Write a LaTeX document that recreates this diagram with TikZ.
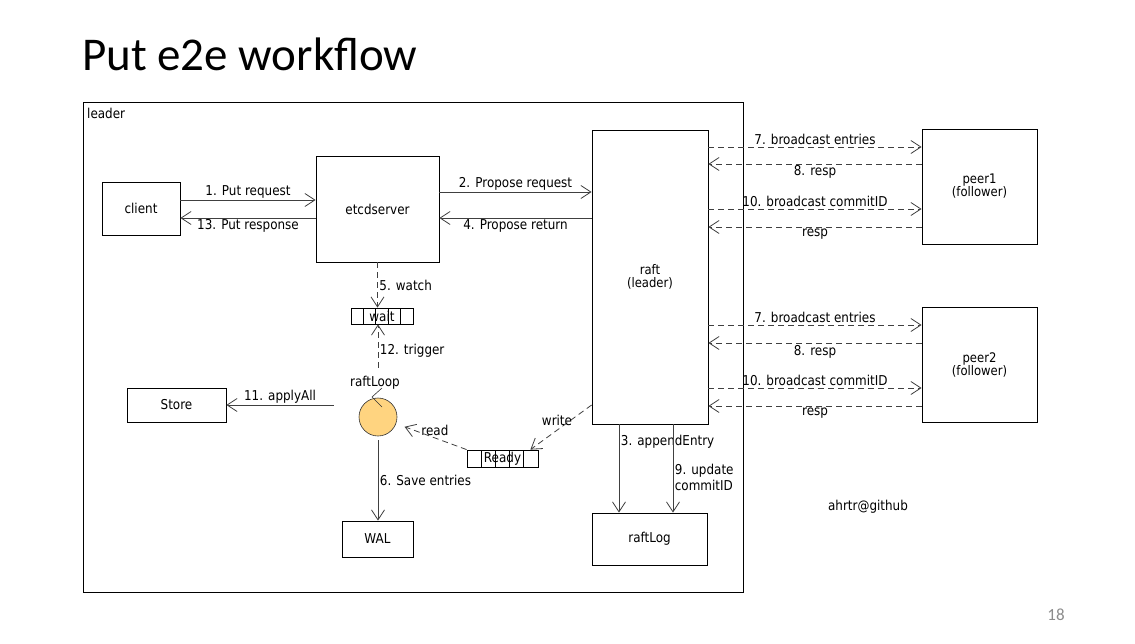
\documentclass[tikz,border=0pt]{standalone}
\usepackage{fontspec}
\setmainfont{DejaVu Sans}[FakeStretch=0.88]
\newfontfamily\titlefont{Carlito}
\usetikzlibrary{arrows.meta,calc}
\definecolor{loopfill}{RGB}{255,212,128}
\begin{document}
\begin{tikzpicture}[x=1pt,y=-1pt,
  box/.style={draw=black, line width=0.8pt, inner sep=0pt, align=center, font=\fontsize{13.6}{15}\selectfont},
  smallbox/.style={box, font=\fontsize{13.2}{13}\selectfont},
  lbl/.style={font=\fontsize{13.6}{15.5}\selectfont, inner sep=1.5pt},
  arr/.style={draw=black!75, line width=0.8pt, -{Straight Barb[length=10pt,width=13pt,line width=0.8pt]}},
  darr/.style={arr, dash pattern=on 6pt off 4pt},
  queue/.style={draw=black, line width=0.8pt, inner sep=0pt, font=\fontsize{13.6}{15}\selectfont,
    path picture={\foreach \i in {1,...,4}
      \draw[line width=0.8pt] ($(path picture bounding box.south west)!\i/5!(path picture bounding box.south east)$) --
            ($(path picture bounding box.north west)!\i/5!(path picture bounding box.north east)$);}},
]
\useasboundingbox (0,0) rectangle (1135,643);
\fill[white] (0,0) rectangle (1135,643);

% title and frame
\node[anchor=base west, inner sep=0pt, font=\titlefont\fontsize{47}{52}\selectfont] (title) at (82,70) {Put e2e workflow};
\node[draw=black, line width=0.8pt, minimum width=660pt, minimum height=490pt, inner sep=0pt, anchor=north west] (frame) at (83,102) {};
\node[anchor=north west, inner sep=0pt, font=\fontsize{13.6}{15}\selectfont] (leaderlbl) at ([xshift=4pt,yshift=-6pt]frame.north west) {leader};

% boxes
\node[box, minimum width=78pt, minimum height=53pt] (client) at (141,208.5) {client};
\node[box, minimum width=123pt, minimum height=106pt] (etcd) at (377.5,209) {etcdserver};
\node[smallbox, minimum width=116pt, minimum height=294pt] (raft) at (650,277) {raft\\(leader)};
\node[smallbox, minimum width=115pt, minimum height=115pt] (peer1) at (979.5,186.5) {peer1\\(follower)};
\node[smallbox, minimum width=115pt, minimum height=115pt] (peer2) at (979.5,364.5) {peer2\\(follower)};
\node[box, minimum width=99pt, minimum height=34pt] (store) at (176.5,405) {Store};
\node[box, minimum width=71pt, minimum height=36pt] (wal) at (377.5,539) {WAL};
\node[box, minimum width=115pt, minimum height=52pt] (raftlog) at (649.5,539) {raftLog};

% queues
\node[queue, minimum width=62pt, minimum height=16pt] (wait) at (382,316) {\raisebox{-3pt}{wait}};
\node[queue, minimum width=71pt, minimum height=17pt] (ready) at (502.5,458.5) {\raisebox{-4pt}{Ready}};

% raft loop
\node[circle, draw=black!80, fill=loopfill, line width=0.6pt, minimum size=38pt, inner sep=0pt] (loop) at (378,417) {};
\node[lbl] (rl) at (375,383) {raftLoop};
\draw[black!80, line width=0.6pt] ($(loop)+(4,-29)$) -- ($(loop)+(-6,-20)$) -- ($(loop)+(4,-10)$);

% client <-> etcdserver
\draw[arr] ([yshift=8.5pt]client.east) -- node[lbl, above]{1. Put request} ([yshift=9pt]etcd.west);
\draw[arr] ([yshift=-9pt]etcd.west) -- node[lbl, below]{13. Put response} ([yshift=-9.5pt]client.east);
% etcdserver <-> raft
\draw[arr] ([yshift=17pt]etcd.east) -- node[lbl, above]{2. Propose request} ([yshift=85pt]raft.west);
\draw[arr] ([yshift=59pt]raft.west) -- node[lbl, below]{4. Propose return} ([yshift=-9pt]etcd.east);

% raft <-> peer1
\draw[darr] ([yshift=130pt]raft.east) -- node[lbl, above]{7. broadcast entries} ([yshift=39.5pt]peer1.west);
\draw[darr] ([yshift=22.5pt]peer1.west) -- node[lbl, below]{8. resp} ([yshift=113pt]raft.east);
\draw[darr] ([yshift=68pt]raft.east) -- node[lbl, above]{10. broadcast commitID} ([yshift=-22.5pt]peer1.west);
\draw[darr] ([yshift=-40.5pt]peer1.west) -- node[lbl, below]{resp} ([yshift=50pt]raft.east);
% raft <-> peer2
\draw[darr] ([yshift=-48pt]raft.east) -- node[lbl, above]{7. broadcast entries} ([yshift=39.5pt]peer2.west);
\draw[darr] ([yshift=21.5pt]peer2.west) -- node[lbl, below]{8. resp} ([yshift=-66pt]raft.east);
\draw[darr] ([yshift=-111pt]raft.east) -- node[lbl, above]{10. broadcast commitID} ([yshift=-23.5pt]peer2.west);
\draw[darr] ([yshift=-41.5pt]peer2.west) -- node[lbl, below]{resp} ([yshift=-129pt]raft.east);

% watch / trigger
\draw[darr] (etcd.south) -- node[lbl, right]{5. watch} (etcd.south |- wait.north);
\draw[darr] ([yshift=30pt]loop.north) -- node[lbl, right, pos=0.4]{12. trigger} (loop.north |- wait.south);

% apply / save
\coordinate (apl) at ([xshift=-25pt]loop.west);
\draw[arr] (apl |- store.east) -- node[lbl, above]{11. applyAll} (store.east);
\draw[arr] ([yshift=-4pt]loop.south) -- node[lbl, right]{6. Save entries} (loop.south |- wal.north);

% raft -> raftLog
\draw[arr] ([xshift=-31pt]raft.south) -- node[lbl, right, pos=0.2]{3. appendEntry} ([xshift=-30.5pt]raftlog.north);
\draw[arr] ([xshift=23pt]raft.south) -- node[lbl, right, pos=0.6, align=left]{9. update\\commitID} ([xshift=23.5pt]raftlog.north);

% write / read
\draw[darr] ([yshift=-128pt]raft.west) -- node[lbl, above, xshift=-4pt]{write} ([xshift=-8pt]ready.north east);
\draw[darr, shorten >=9pt] (ready.north west) -- node[lbl, above, pos=0.45]{read} (loop);

% extra texts
\node[lbl] (gh) at (868,507) {ahrtr@github};
\node[inner sep=0pt, text=black!45, font=\titlefont\fontsize{17}{19}\selectfont] (pg) at (1056,615) {18};
\end{tikzpicture}
\end{document}
